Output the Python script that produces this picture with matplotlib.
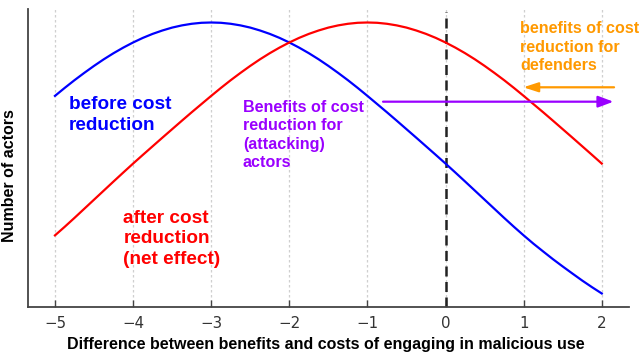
import matplotlib
matplotlib.use("Agg")
import matplotlib.pyplot as plt
import numpy as np

# Data (arbitrary "number of actors" units), x step 0.125 from -5 to 2
x_vals = np.arange(-5.0, 2.0001, 0.125)
before_vals = [211.6, 219.6, 227.3, 234.6, 241.6, 248.2, 254.3, 259.9, 265.0, 269.6, 273.6,
               277.0, 279.9, 282.1, 283.7, 284.7,
               285.0,
               284.7, 283.7, 282.1, 279.9, 277.0, 273.6, 269.6, 265.0, 259.9, 254.3, 248.2,
               241.6, 234.6, 227.3, 219.6, 211.6, 203.4, 195.2, 186.8, 178.3, 169.8, 161.2,
               152.6, 143.9, 135.0, 126.0, 116.9, 107.8, 98.7, 89.6, 80.7, 72.1, 63.8, 56.0,
               48.3, 41.0, 33.9, 26.9, 20.3, 14.0]
after_vals = [72.1, 80.7, 89.6, 98.7, 107.8, 116.9, 126.0, 135.0, 143.9, 152.6, 161.2, 169.8,
              178.3, 186.8, 195.2, 203.4, 211.6, 219.6, 227.3, 234.6, 241.6, 248.2, 254.3,
              259.9, 265.0, 269.6, 273.6, 277.0, 279.9, 282.1, 283.7, 284.7,
              285.0,
              284.7, 283.7, 282.1, 279.9, 277.0, 273.6, 269.6, 265.0, 259.9, 254.3, 248.2,
              241.6, 234.6, 227.3, 219.6, 211.6, 203.4, 195.2, 186.8, 178.3, 169.8, 161.2,
              152.6, 143.9]
xticks = [-5, -4, -3, -2, -1, 0, 1, 2]
xtick_labels = ["\u22125", "\u22124", "\u22123", "\u22122", "\u22121", "0", "1", "2"]

BLUE = "#0000FF"
RED = "#FF0000"
PURPLE = "#9A00FF"
ORANGE = "#FF9900"
BOLD = dict(family=["Liberation Sans", "DejaVu Sans"], fontweight="bold")

fig = plt.figure(figsize=(6.4, 3.54), dpi=100)
ax = fig.add_axes([0.0445, 0.1314, 0.9385, 0.8432])

ax.set_xlim(-5.339, 2.35)
ax.set_ylim(0, 298.5)

# grid
for t in xticks:
    ax.axvline(t, color="#cfcfcf", lw=0.9, ls=(0, (2, 2)), zorder=0)

ax.plot(x_vals, before_vals, color=BLUE, lw=1.6, zorder=3, solid_joinstyle="round")
ax.plot(x_vals, after_vals, color=RED, lw=1.6, zorder=3, solid_joinstyle="round")

ax.axvline(0, color="#222222", lw=1.8, ls=(0, (4, 2.2)), ymax=0.99, zorder=2)

ax.set_xticks(xticks)
ax.set_xticklabels(xtick_labels, fontsize=10.8, color="#333333")
ax.set_yticks([])
ax.tick_params(axis="x", direction="in", length=5, width=1, color="#444444", pad=6)

for s in ["top", "right"]:
    ax.spines[s].set_visible(False)
for s in ["left", "bottom"]:
    ax.spines[s].set_color("#444444")
    ax.spines[s].set_linewidth(1.3)

fig.text(0.509, 0.0133, "Difference between benefits and costs of engaging in malicious use",
         fontsize=11.5, color="black", ha="center", va="baseline", **BOLD)
fig.text(9.5 / 640, 1 - 176 / 354, "Number of actors", fontsize=11.5, color="black",
         rotation=90, ha="center", va="center", **BOLD)

ax.text(-4.82, 211.5, "before cost\nreduction", color=BLUE, fontsize=13.7,
        va="top", ha="left", linespacing=1.29, **BOLD)
ax.text(-4.125, 97.5, "after cost\nreduction\n(net effect)", color=RED, fontsize=13.7,
        va="top", ha="left", linespacing=1.26, **BOLD)
ax.text(-2.593, 207.5, "Benefits of cost\nreduction for\n(attacking)\nactors", color=PURPLE,
        fontsize=11.6, va="top", ha="left", linespacing=1.28, **BOLD)
ax.text(0.954, 286, "benefits of cost\nreduction for\ndefenders", color=ORANGE,
        fontsize=11.6, va="top", ha="left", linespacing=1.28, clip_on=False, **BOLD)

ax.annotate("", xy=(2.149, 205.8), xytext=(-0.80, 205.8),
            arrowprops=dict(arrowstyle="-|>,head_length=0.4,head_width=0.15",
                            mutation_scale=23, color=PURPLE, lw=1.6,
                            shrinkA=0, shrinkB=0))
ax.annotate("", xy=(0.996, 220.2), xytext=(2.157, 220.2),
            arrowprops=dict(arrowstyle="-|>,head_length=0.4,head_width=0.13",
                            mutation_scale=22, color=ORANGE, lw=1.6,
                            shrinkA=0, shrinkB=0))

fig.savefig("out.png", dpi=100)
